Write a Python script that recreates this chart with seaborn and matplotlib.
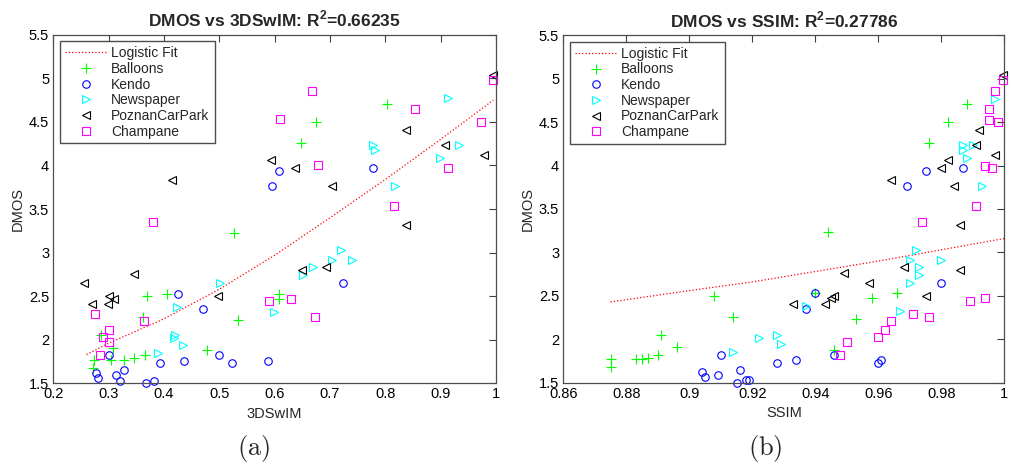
import numpy as np
import seaborn as sns
import matplotlib.pyplot as plt
from matplotlib.ticker import FormatStrFormatter

# DMOS scores per sequence (same subjective scores in both panels)
balloons_dmos = [4.71, 4.50, 4.26, 3.23, 2.50, 2.53, 2.53, 2.47, 2.26, 2.23,
                 1.88, 2.05, 1.91, 1.77, 1.77, 1.77, 1.79, 1.82, 1.68]
balloons_3d = [0.802, 0.674, 0.648, 0.526, 0.370, 0.405, 0.608, 0.607, 0.362, 0.533,
               0.477, 0.287, 0.307, 0.274, 0.304, 0.327, 0.345, 0.366, 0.271]
balloons_ssim = [0.988, 0.982, 0.976, 0.944, 0.908, 0.940, 0.966, 0.958, 0.914, 0.953,
                 0.946, 0.891, 0.896, 0.875, 0.883, 0.885, 0.887, 0.890, 0.875]

kendo_dmos = [3.97, 3.94, 3.76, 2.65, 2.53, 2.35, 1.82, 1.82, 1.73, 1.76,
              1.73, 1.76, 1.62, 1.56, 1.59, 1.65, 1.53, 1.53, 1.50]
kendo_3d = [0.777, 0.607, 0.596, 0.723, 0.425, 0.470, 0.499, 0.301, 0.523, 0.436,
            0.393, 0.588, 0.277, 0.281, 0.313, 0.328, 0.320, 0.381, 0.367]
kendo_ssim = [0.987, 0.975, 0.969, 0.980, 0.940, 0.937, 0.910, 0.946, 0.928, 0.934,
              0.960, 0.961, 0.904, 0.905, 0.909, 0.916, 0.918, 0.919, 0.915]

news_dmos = [4.77, 4.24, 4.18, 4.24, 4.09, 3.77, 3.03, 2.91, 2.91, 2.83,
             2.74, 2.65, 2.38, 2.32, 2.05, 2.02, 1.94, 1.85]
news_3d = [0.914, 0.777, 0.782, 0.933, 0.899, 0.817, 0.720, 0.739, 0.704, 0.670,
           0.652, 0.501, 0.424, 0.598, 0.420, 0.418, 0.434, 0.390]
news_ssim = [0.997, 0.987, 0.987, 0.990, 0.988, 0.993, 0.972, 0.970, 0.980, 0.973,
             0.973, 0.970, 0.937, 0.967, 0.928, 0.922, 0.929, 0.914]

poznan_dmos = [5.04, 4.41, 4.24, 4.12, 4.06, 3.97, 3.83, 3.77, 3.32, 2.76,
               2.65, 2.80, 2.83, 2.50, 2.50, 2.41, 2.41, 2.47]
poznan_3d = [0.995, 0.837, 0.907, 0.978, 0.593, 0.636, 0.415, 0.703, 0.837, 0.346,
             0.255, 0.649, 0.692, 0.498, 0.301, 0.269, 0.298, 0.310]
poznan_ssim = [0.9995, 0.992, 0.991, 0.997, 0.982, 0.980, 0.964, 0.984, 0.986, 0.949,
               0.957, 0.986, 0.968, 0.975, 0.946, 0.933, 0.943, 0.945]

champ_dmos = [4.98, 4.86, 4.65, 4.53, 4.50, 4.00, 3.97, 3.53, 3.35, 2.44,
              2.47, 2.26, 2.29, 2.21, 2.11, 2.03, 1.97, 1.82]
champ_3d = [0.994, 0.667, 0.853, 0.610, 0.972, 0.678, 0.913, 0.816, 0.380, 0.589,
            0.629, 0.673, 0.276, 0.364, 0.301, 0.290, 0.301, 0.284]
champ_ssim = [0.9997, 0.997, 0.995, 0.995, 0.998, 0.994, 0.996, 0.991, 0.974, 0.989,
              0.994, 0.976, 0.971, 0.964, 0.962, 0.960, 0.950, 0.948]

# logistic fit curves
fit_3d_x = [0.26, 0.30, 0.40, 0.50, 0.60, 0.70, 0.80, 0.90, 0.995]
fit_3d_y = [1.83, 1.96, 2.24, 2.58, 2.97, 3.40, 3.84, 4.30, 4.75]
fit_ssim_x = [0.875, 0.90, 0.92, 0.94, 0.96, 0.98, 1.00]
fit_ssim_y = [2.43, 2.56, 2.66, 2.78, 2.90, 3.03, 3.16]

series = ["Balloons", "Kendo", "Newspaper", "PoznanCarPark", "Champane"]
dmos = [balloons_dmos, kendo_dmos, news_dmos, poznan_dmos, champ_dmos]
x3d = [balloons_3d, kendo_3d, news_3d, poznan_3d, champ_3d]
xssim = [balloons_ssim, kendo_ssim, news_ssim, poznan_ssim, champ_ssim]
markers = ["+", "o", ">", "<", "s"]
msizes = [6.6, 5.4, 5.8, 5.8, 5.3]
colors = ["#00ff00", "#0000ff", "#00ffff", "#000000", "#ff00ff"]

sns.set_style("white")
plt.rcParams['font.family'] = ['Liberation Sans', 'DejaVu Sans']
plt.rcParams['mathtext.fontset'] = 'custom'
plt.rcParams['mathtext.bf'] = 'Liberation Sans:bold'

fig = plt.figure(figsize=(10.12, 4.71), dpi=100)
ax1 = fig.add_axes([0.0527, 0.1862, 0.4375, 0.740])
ax2 = fig.add_axes([0.5566, 0.1875, 0.4358, 0.7376])

panels = [
    (ax1, x3d, fit_3d_x, fit_3d_y, "3DSwIM", "0.66235", (0.2, 1.0),
     np.arange(0.2, 1.01, 0.1), "(a)", 0.251),
    (ax2, xssim, fit_ssim_x, fit_ssim_y, "SSIM", "0.27786", (0.86, 1.0),
     np.arange(0.86, 1.001, 0.02), "(b)", 0.756),
]

for ax, xs, fx, fy, name, r2, xlim, xticks, tag, tagx in panels:
    sns.lineplot(x=fx, y=fy, ax=ax, color="red", linestyle=":", linewidth=0.9,
                 label="Logistic Fit")
    for lab, xv, yv, m, ms, c in zip(series, xs, dmos, markers, msizes, colors):
        # markers only, no connecting line (MATLAB-style plot markers)
        sns.lineplot(x=xv, y=yv, ax=ax, marker=m, linestyle="", color=c,
                     markersize=ms, markerfacecolor="none", markeredgecolor=c,
                     markeredgewidth=0.8, estimator=None, sort=False,
                     label=lab, clip_on=False)
    ax.set_xlim(*xlim)
    ax.set_ylim(1.5, 5.5)
    ax.set_xticks(xticks)
    ax.set_yticks(np.arange(1.5, 5.51, 0.5))
    ax.xaxis.set_major_formatter(FormatStrFormatter("%g"))
    ax.yaxis.set_major_formatter(FormatStrFormatter("%g"))
    ax.tick_params(direction="in", length=5, width=0.8, colors="0.25",
                   labelcolor="black", labelsize=10.5, top=True, right=True, pad=3)
    for sp in ax.spines.values():
        sp.set_visible(True)
        sp.set_color("0.3")
        sp.set_linewidth(0.9)
    ax.set_xlabel(name, fontsize=10.5, labelpad=4)
    ax.set_ylabel("DMOS", fontsize=10.5, labelpad=3)
    ax.set_title("DMOS vs %s: R$^{\\mathbf{2}}$=%s" % (name, r2),
                 fontsize=12.5, fontweight="bold", pad=6)
    ax.legend(loc="upper left", bbox_to_anchor=(0.015, 0.981), borderaxespad=0,
              fontsize=10, frameon=True, fancybox=False, edgecolor="0.3",
              framealpha=1, handlelength=3.0, handletextpad=0.35,
              labelspacing=0.12, borderpad=0.35)
    fig.text(tagx, 0.047, r"$\mathrm{%s}$" % tag, fontsize=19,
             ha="center", va="center", math_fontfamily="cm")

fig.savefig("out.png", dpi=100)
